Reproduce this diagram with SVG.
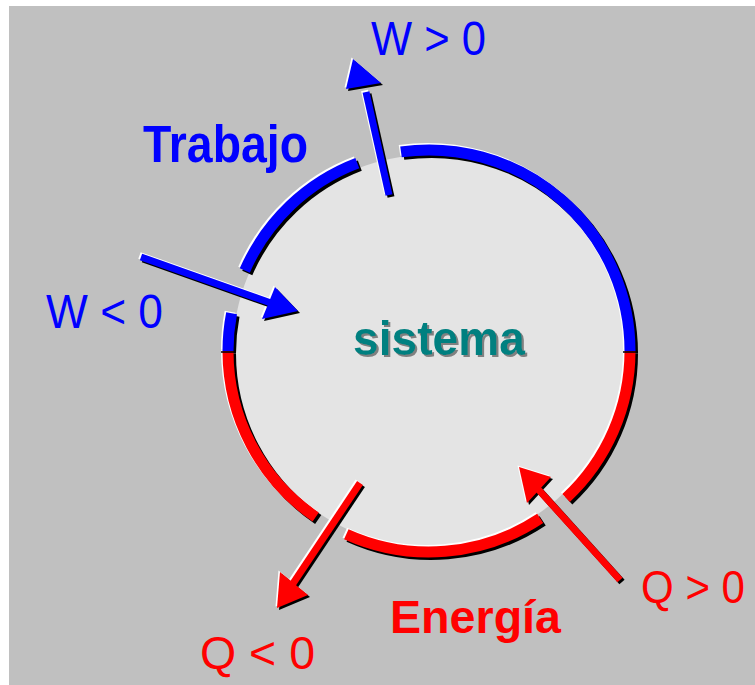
<svg xmlns="http://www.w3.org/2000/svg" xmlns:xlink="http://www.w3.org/1999/xlink" width="755" height="685" viewBox="0 0 755 685">
<style>
.hl{stroke:#ffffff;fill:none}
.sh{stroke:#000000;fill:none}
.ring{stroke-width:11}
.shaft{stroke-width:7}
.blue{stroke:#0000ff;fill:none}
.red{stroke:#ff0000;fill:none}
.hlf{fill:#ffffff;stroke:none}
.shf{fill:#000000;stroke:none}
.bluef{fill:#0000ff;stroke:none}
.redf{fill:#ff0000;stroke:none}
.lbl{font-family:"Liberation Sans",Arial,sans-serif}
.b{font-weight:bold}
</style>
<defs>
<filter id="tshadow" x="-10%" y="-20%" width="120%" height="150%">
<feDropShadow dx="2" dy="2" stdDeviation="0.6" flood-color="#808080" flood-opacity="1"/>
</filter>
<path id="arcA" d="M244.8,270.5 A201,201 0 0 1 357.3,163.2"/>
<path id="arcB" d="M401,151.9 A201,201 0 0 1 630,351"/>
<path id="arcC" d="M630,351 A201,201 0 0 1 566.1,498"/>
<path id="arcD" d="M540.2,518.4 A201,201 0 0 1 346.3,534.2"/>
<path id="arcE" d="M315.7,517 A201,201 0 0 1 228,351"/>
<path id="arcF" d="M228,351 A201,201 0 0 1 231.6,313.3"/>
<path id="s1" d="M389,195 L366,92"/>
<polygon id="h1" points="353,59 346,89 381,83"/>
<path id="s2" d="M141,257 L271,303"/>
<polygon id="h2" points="298,311 275,287 262,319"/>
<path id="s3" d="M360,483 L292,585"/>
<polygon id="h3" points="277,608 280,572 308,595"/>
<path id="s4" d="M620,580 L537,488"/>
<polygon id="h4" points="519,467 551,477 527,503"/>
</defs>
<rect x="0" y="0" width="755" height="685" fill="#ffffff"/>
<rect x="9" y="6" width="746" height="679" fill="#c0c0c0"/>

<g id="sistema">
<circle cx="429" cy="351" r="196" fill="#e4e4e4"/>
<g class="ring">
<g transform="translate(-1.5,-1.5)" class="hl">
<use xlink:href="#arcA"/><use xlink:href="#arcB"/><use xlink:href="#arcC"/><use xlink:href="#arcD"/><use xlink:href="#arcE"/><use xlink:href="#arcF"/>
</g>
<g transform="translate(2.5,2.5)" class="sh">
<use xlink:href="#arcA"/><use xlink:href="#arcB"/><use xlink:href="#arcC"/><use xlink:href="#arcD"/><use xlink:href="#arcE"/><use xlink:href="#arcF"/>
</g>
<g class="blue"><use xlink:href="#arcA"/><use xlink:href="#arcB"/><use xlink:href="#arcF"/></g>
<g class="red"><use xlink:href="#arcC"/><use xlink:href="#arcD"/><use xlink:href="#arcE"/></g>
</g>
<line x1="221" y1="352" x2="236" y2="352" stroke="#000" stroke-width="1.5"/>
<line x1="623" y1="352" x2="638" y2="352" stroke="#000" stroke-width="1.5"/>
<text class="lbl b" x="353" y="355" font-size="48" fill="#008080" filter="url(#tshadow)" textLength="172" lengthAdjust="spacingAndGlyphs">sistema</text>
</g>

<g id="connectors">
<g class="shaft">
<g transform="translate(-1.5,-1.5)"><use class="hl" xlink:href="#s1"/><use class="hl" xlink:href="#s2"/><use class="hl" xlink:href="#s3"/><use class="hl" xlink:href="#s4"/>
<use class="hlf" xlink:href="#h1"/><use class="hlf" xlink:href="#h2"/><use class="hlf" xlink:href="#h3"/><use class="hlf" xlink:href="#h4"/></g>
<g transform="translate(2,2)"><use class="sh" xlink:href="#s1"/><use class="sh" xlink:href="#s2"/><use class="sh" xlink:href="#s3"/><use class="sh" xlink:href="#s4"/>
<use class="shf" xlink:href="#h1"/><use class="shf" xlink:href="#h2"/><use class="shf" xlink:href="#h3"/><use class="shf" xlink:href="#h4"/></g>
<g id="arrow-w-pos"><use class="blue" xlink:href="#s1"/><use class="bluef" xlink:href="#h1"/></g>
<g id="arrow-w-neg"><use class="blue" xlink:href="#s2"/><use class="bluef" xlink:href="#h2"/></g>
<g id="arrow-q-neg"><use class="red" xlink:href="#s3"/><use class="redf" xlink:href="#h3"/></g>
<g id="arrow-q-pos"><use class="red" xlink:href="#s4"/><use class="redf" xlink:href="#h4"/></g>
</g>
</g>

<g id="label-trabajo"><text class="lbl b" x="143" y="162" font-size="51" fill="#0000ff" textLength="165" lengthAdjust="spacingAndGlyphs">Trabajo</text></g>
<g id="label-w-pos"><text class="lbl" x="371" y="55" font-size="48" fill="#0000ff" textLength="115" lengthAdjust="spacingAndGlyphs">W &gt; 0</text></g>
<g id="label-w-neg"><text class="lbl" x="46" y="328" font-size="49" fill="#0000ff" textLength="117" lengthAdjust="spacingAndGlyphs">W &lt; 0</text></g>
<g id="label-energia"><text class="lbl b" x="390" y="633" font-size="47" fill="#ff0000" textLength="171" lengthAdjust="spacingAndGlyphs">Energía</text></g>
<g id="label-q-pos"><text class="lbl" x="641" y="603" font-size="46" fill="#ff0000" textLength="104" lengthAdjust="spacingAndGlyphs">Q &gt; 0</text></g>
<g id="label-q-neg"><text class="lbl" x="200" y="669" font-size="47" fill="#ff0000" textLength="115" lengthAdjust="spacingAndGlyphs">Q &lt; 0</text></g>
</svg>
